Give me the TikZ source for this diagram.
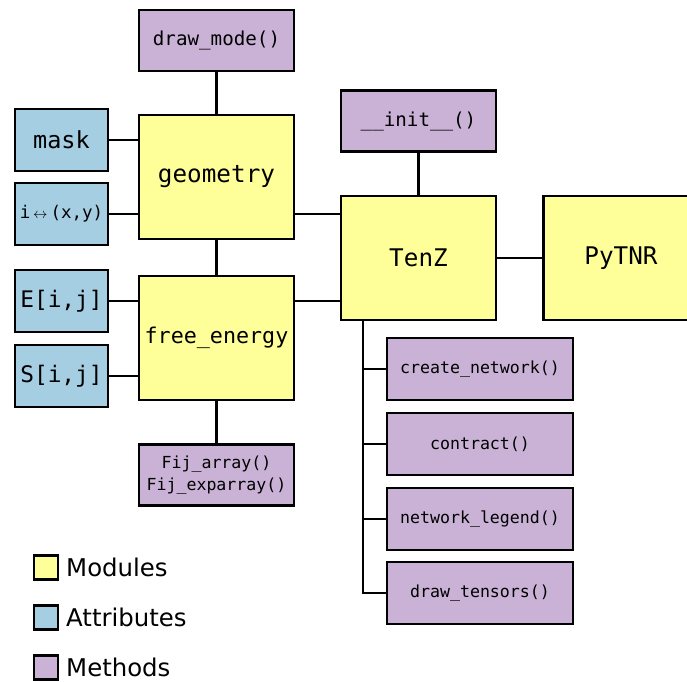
\documentclass[tikz,border=0pt]{standalone}
\usepackage{fontspec}
\setmainfont{DejaVu Sans}
\setmonofont{DejaVu Sans Mono}
\definecolor{modfill}{RGB}{255,255,153}
\definecolor{attfill}{RGB}{166,206,227}
\definecolor{metfill}{RGB}{202,178,214}
\newcommand{\fsz}[1]{\fontsize{#1}{1.25\dimexpr#1pt\relax}\selectfont}

\begin{document}
\begin{tikzpicture}[x=1pt,y=-1pt,
  box/.style={draw=black, line width=2.6pt, inner sep=0pt, align=center,
              font=\ttfamily\fsz{16.6}},
  module/.style={box, fill=modfill, minimum width=155pt, minimum height=124pt,
                 font=\ttfamily\fsz{24.3}},
  attr/.style={box, fill=attfill, minimum width=93pt, minimum height=62pt,
               font=\ttfamily\fsz{23.5}},
  method/.style={box, fill=metfill, minimum width=155pt, minimum height=61pt},
  tmethod/.style={box, fill=metfill, minimum width=186pt, minimum height=62pt},
  link/.style={draw=black, line width=2.3pt},
  swatch/.style={draw=black, line width=2.6pt, minimum width=24pt,
                 minimum height=24pt, inner sep=0pt},
  legtext/.style={anchor=west, inner sep=0pt, font=\fsz{24.4}}
]
\useasboundingbox (0,0) rectangle (687,681);

% modules
\node[module] (geometry) at (216.5,177) {geometry};
\node[module, font=\ttfamily\fsz{21.7}] (free) at (216.5,338) {free\_energy};
\node[module] (tenz) at (418.5,258) {TenZ};
\node[module] (pytnr) at (621,258) {PyTNR};

% attributes
\node[attr, font=\ttfamily\fsz{17.5}] (ixy) at (61.5,214) {i\,{\fontsize{15}{18}\selectfont$\leftrightarrow$}\,(x,y)};
\node[attr] (mask) at (61.5,140) {mask};
\node[attr, font=\ttfamily\fsz{22.8}] (eij) at (61.5,301) {E[i,j]};
\node[attr, font=\ttfamily\fsz{22.8}] (sij) at (61.5,376) {S[i,j]};

% methods
\node[method, font=\ttfamily\fsz{19.2}] (drawmode) at (216.5,40.5) {draw\_mode()};
\node[method, font=\ttfamily\fontsize{16.6}{21.5}\selectfont] (fij) at (216.5,475) {Fij\_array()\\Fij\_exparray()};
\node[method, font=\ttfamily\fsz{19.2}] (init) at (418.5,121) {\_\_init\_\_()};
\node[tmethod] (cnet) at (480,369) {create\_network()};
\node[tmethod] (contract) at (480,444) {contract()};
\node[tmethod] (nleg) at (480,519) {network\_legend()};
\node[tmethod] (dten) at (480,593) {draw\_tensors()};

% connectors on the left column
\path[link] (drawmode) -- (geometry);
\path[link] (geometry) -- (free);
\path[link] (free) -- (fij);
\path[link] (mask.east) -- (mask.east -| geometry.west);
\path[link] (ixy.east) -- (ixy.east -| geometry.west);
\path[link] (eij.east) -- (eij.east -| free.west);
\path[link] (sij.east) -- (sij.east -| free.west);

% connectors into TenZ
\path[link] ([yshift=-37pt]geometry.east) -- ([yshift=-37pt]geometry.east -| tenz.west);
\path[link] ([yshift=37pt]free.east) -- ([yshift=37pt]free.east -| tenz.west);
\path[link] (init) -- (tenz);
\path[link] (tenz) -- (pytnr);

% method tree below TenZ
\coordinate (trunk) at ([xshift=23pt]tenz.south west);
\path[link] (trunk) |- (cnet.west);
\path[link] (trunk) |- (contract.west);
\path[link] (trunk) |- (nleg.west);
\path[link] (trunk) |- (dten.west);

% legend
\node[swatch, fill=modfill] (lm) at (46,567.5) {};
\node[legtext] (lmt) at (66,567) {Modules};
\node[swatch, fill=attfill] (la) at (46,617.5) {};
\node[legtext] (lat) at (66,617) {Attributes};
\node[swatch, fill=metfill] (lme) at (46,667.5) {};
\node[legtext] (lmet) at (66,667) {Methods};
\end{tikzpicture}
\end{document}
